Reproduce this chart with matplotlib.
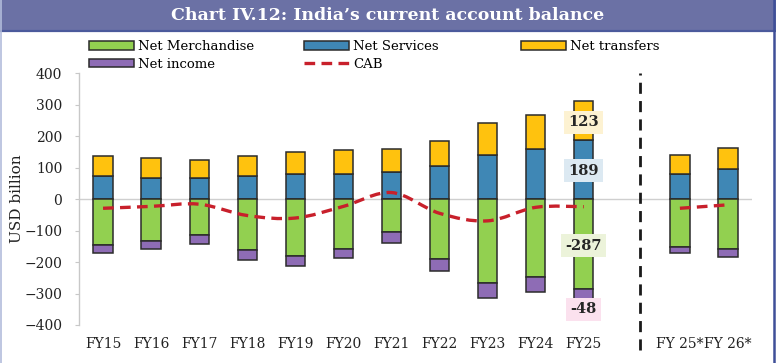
import matplotlib
matplotlib.use('Agg')
import matplotlib.pyplot as plt
import numpy as np
from matplotlib.patches import Rectangle, PathPatch, Patch
from matplotlib.path import Path
from matplotlib.lines import Line2D

# data (USD billion)
years = ['FY15', 'FY16', 'FY17', 'FY18', 'FY19', 'FY20', 'FY21', 'FY22', 'FY23', 'FY24', 'FY25']
merch = [-147, -132, -113, -162, -181, -159, -105, -191, -266, -246, -287]
services = [72, 67, 66, 74, 80, 81, 85, 104, 140, 160, 189]
transfers = [66, 63, 57, 63, 71, 76, 75, 82, 103, 109, 123]
income = [-25, -26, -28, -30, -30, -29, -35, -37, -48, -50, -48]
cab = [-29, -23, -16, -52, -60, -23, 21, -45, -69, -26, -24]

proj_years = ['FY 25*', 'FY 26*']
proj_merch = [-151, -159]
proj_services = [80, 97]
proj_transfers = [59, 65]
proj_income = [-21, -25]
proj_cab = [-29, -18]

# colours
c_merch = '#92d050'
c_serv = '#3f87b5'
c_trans = '#ffc20e'
c_inc = '#8e6cb5'
c_cab = '#c8202b'
edge = '#2b2b2b'

serif = 'DejaVu Serif'
plt.rcParams['font.family'] = serif

fig = plt.figure(figsize=(7.76, 3.63), dpi=100)
ax = fig.add_axes([79 / 776, (363 - 325) / 363, (752 - 79) / 776, (325 - 73.3) / 363])

x_hist = np.arange(len(years))
x_proj = np.arange(len(years) + 1, len(years) + 1 + len(proj_years))
w = 0.4


def draw_bars(x, m, s, t, inc):
    m = np.array(m); s = np.array(s); t = np.array(t); inc = np.array(inc)
    ax.bar(x, s, w, color=c_serv, edgecolor=edge, linewidth=1.1, zorder=3)
    ax.bar(x, t, w, bottom=s, color=c_trans, edgecolor=edge, linewidth=1.1, zorder=3)
    ax.bar(x, m, w, color=c_merch, edgecolor=edge, linewidth=1.1, zorder=3)
    ax.bar(x, inc, w, bottom=m, color=c_inc, edgecolor=edge, linewidth=1.1, zorder=3)


draw_bars(x_hist, merch, services, transfers, income)
draw_bars(x_proj, proj_merch, proj_services, proj_transfers, proj_income)


# smoothed CAB line (Excel style) drawn as cubic Bezier path
def smooth_path(xs, ys):
    pts = np.column_stack([xs, ys]).astype(float)
    n = len(pts)
    verts = [pts[0]]
    codes = [Path.MOVETO]
    for i in range(n - 1):
        p0 = pts[i - 1] if i > 0 else pts[i]
        p1 = pts[i]
        p2 = pts[i + 1]
        p3 = pts[i + 2] if i + 2 < n else pts[i + 1]
        c1 = p1 + (p2 - p0) / 6.0
        c2 = p2 - (p3 - p1) / 6.0
        verts += [c1, c2, p2]
        codes += [Path.CURVE4] * 3
    return Path(verts, codes)


for xs, ys in [(x_hist, cab), (x_proj, proj_cab)]:
    pp = PathPatch(smooth_path(xs, ys), fill=False, edgecolor=c_cab, linewidth=2.4,
                   linestyle=(0, (3.2, 1.9)), capstyle='butt', zorder=5)
    ax.add_patch(pp)

# zero line
ax.axhline(0, color='#cfcfcf', linewidth=1.0, zorder=1)

# separator between actual and projections
ax.axvline(len(years) + 0.17, ymin=-0.1, ymax=1.0, color='#1a1a1a', linewidth=2.0,
           linestyle=(0, (4, 2.6)), clip_on=False, zorder=2)

# value labels for FY25
i = len(years) - 1
lab_kw = dict(ha='center', va='center', fontsize=10.5, fontweight='bold', color='#262626', zorder=6)
ax.text(x_hist[i], services[i] + transfers[i] / 2 - 6, f'{transfers[i]}',
        bbox=dict(boxstyle='square,pad=0.3', fc='#fdf2d2', ec='none'), **lab_kw)
ax.text(x_hist[i], services[i] / 2 - 4, f'{services[i]}',
        bbox=dict(boxstyle='square,pad=0.3', fc='#dce9f2', ec='none'), **lab_kw)
ax.text(x_hist[i], merch[i] / 2 - 5, f'{merch[i]}',
        bbox=dict(boxstyle='square,pad=0.3', fc='#ecf3da', ec='none'), **lab_kw)
ax.text(x_hist[i], merch[i] + income[i] - 15, f'{income[i]}',
        bbox=dict(boxstyle='square,pad=0.3', fc='#fbe1ee', ec='none'), **lab_kw)

# axes styling
ax.set_xlim(-0.5, 13.5)
ax.set_ylim(-400, 400)
ax.set_yticks(range(-400, 401, 100))
ax.set_xticks(list(x_hist) + list(x_proj))
ax.set_xticklabels(years + proj_years, fontsize=10)
for sp in ['top', 'right', 'bottom']:
    ax.spines[sp].set_visible(False)
ax.spines['left'].set_color('#c8c8c8')
ax.spines['left'].set_linewidth(1.0)
ax.tick_params(axis='y', colors='#c8c8c8', length=3, labelsize=10, labelcolor='#222222', pad=9)
ax.tick_params(axis='x', length=0, pad=9, labelcolor='#222222')
ax.set_ylabel('USD billion', fontsize=11, color='#222222')
ax.yaxis.set_label_coords(-55 / 673, 0.5)

# legend in three columns
leg_kw = dict(loc='upper left', frameon=False, fontsize=9.5, handlelength=3.4,
              handleheight=0.6, handletextpad=0.3, borderpad=0, borderaxespad=0,
              labelspacing=0.35)
h_m = Patch(facecolor=c_merch, edgecolor=edge, linewidth=1.1)
h_s = Patch(facecolor=c_serv, edgecolor=edge, linewidth=1.1)
h_t = Patch(facecolor=c_trans, edgecolor=edge, linewidth=1.1)
h_i = Patch(facecolor=c_inc, edgecolor=edge, linewidth=1.1)
h_c = Line2D([], [], color=c_cab, linewidth=2.4, linestyle=(0, (3.2, 1.9)))
top = 1 - 40 / 363
fig.legend([h_m, h_i], ['Net Merchandise', 'Net income'], bbox_to_anchor=(89 / 776, top), **leg_kw)
fig.legend([h_s, h_c], ['Net Services', 'CAB'], bbox_to_anchor=(304 / 776, top), **leg_kw)
fig.legend([h_t], ['Net transfers'], bbox_to_anchor=(521 / 776, top), **leg_kw)

# title band and frame
fig.patches.append(Rectangle((0, 1 - 31 / 363), 1, 31 / 363, transform=fig.transFigure,
                             facecolor='#6b71a5', edgecolor='none', zorder=0))
fig.add_artist(Line2D([0, 1], [1 - 31 / 363, 1 - 31 / 363], transform=fig.transFigure,
                      color='#4b5a9c', linewidth=1.6))
fig.add_artist(Line2D([774 / 776, 774 / 776], [0, 1], transform=fig.transFigure,
                      color='#3f4f98', linewidth=1.8))
fig.add_artist(Line2D([0.5 / 776, 0.5 / 776], [0, 1], transform=fig.transFigure,
                      color='#b3bcdb', linewidth=1.2))
fig.text(0.5, 1 - 16 / 363, 'Chart IV.12: India\u2019s current account balance', ha='center', va='center',
         fontsize=12.5, fontweight='bold', color='white')

fig.savefig('out.png', dpi=100)
